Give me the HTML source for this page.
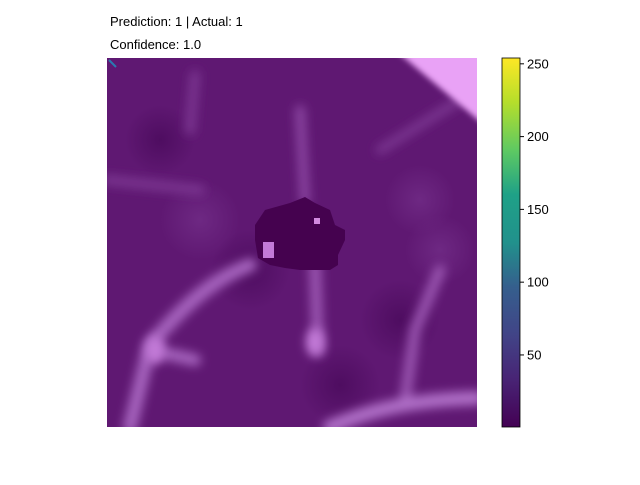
<!DOCTYPE html>
<html><head><meta charset="utf-8"><style>
body{margin:0;background:#fff;width:640px;height:480px;overflow:hidden;font-family:"Liberation Sans","DejaVu Sans",sans-serif}
</style></head><body>
<svg width="640" height="480" xmlns="http://www.w3.org/2000/svg">
<defs>
<linearGradient id="vir" x1="0" y1="1" x2="0" y2="0">
<stop offset="0" stop-color="#440154"/><stop offset="0.13" stop-color="#482475"/><stop offset="0.25" stop-color="#414487"/><stop offset="0.38" stop-color="#355f8d"/><stop offset="0.5" stop-color="#21918c"/><stop offset="0.63" stop-color="#1fa187"/><stop offset="0.75" stop-color="#5ec962"/><stop offset="0.88" stop-color="#b5de2b"/><stop offset="1" stop-color="#fde725"/>
</linearGradient>
<radialGradient id="dk"><stop offset="0" stop-color="#4a0a5c" stop-opacity="0.8"/><stop offset="1" stop-color="#4a0a5c" stop-opacity="0"/></radialGradient>
<radialGradient id="lt"><stop offset="0" stop-color="#742f8a" stop-opacity="0.7"/><stop offset="1" stop-color="#742f8a" stop-opacity="0"/></radialGradient>
<filter id="bl" filterUnits="userSpaceOnUse" x="0" y="0" width="640" height="480"><feGaussianBlur stdDeviation="5"/></filter>
<filter id="bl3" filterUnits="userSpaceOnUse" x="0" y="0" width="640" height="480"><feGaussianBlur stdDeviation="3"/></filter>
<clipPath id="cp"><rect x="107" y="58" width="370" height="369"/></clipPath>
</defs>
<text x="110" y="26" font-size="13">Prediction: 1 | Actual: 1</text>
<text x="110" y="49" font-size="13">Confidence: 1.0</text>
<g clip-path="url(#cp)">
<rect x="107" y="58" width="370" height="369" fill="#5f1872"/>
<circle cx="160" cy="140" r="35" fill="url(#dk)"/><circle cx="250" cy="270" r="40" fill="url(#dk)"/>
<circle cx="340" cy="385" r="40" fill="url(#dk)"/><circle cx="420" cy="200" r="35" fill="url(#lt)"/>
<circle cx="200" cy="220" r="40" fill="url(#lt)"/><circle cx="400" cy="320" r="40" fill="url(#dk)"/>
<circle cx="440" cy="250" r="35" fill="url(#lt)"/>
<g filter="url(#bl)" fill="none" stroke-linecap="round">
<path d="M300 110 L305 200" stroke="#8a45a0" stroke-width="10"/>
<path d="M195 75 L190 130" stroke="#7a3590" stroke-width="10"/>
<path d="M250 265 C210 280 180 310 150 345 L130 427" stroke="#a664be" stroke-width="14"/>
<path d="M150 350 L195 360" stroke="#a664be" stroke-width="12"/>
<path d="M315 265 L318 350" stroke="#9a55b0" stroke-width="12"/>
<path d="M440 270 L415 330 L405 400" stroke="#9a55b0" stroke-width="11"/>
<path d="M330 427 C370 410 410 400 477 398" stroke="#b070c8" stroke-width="14"/>
<path d="M380 150 L460 100" stroke="#7a3590" stroke-width="9"/>
<path d="M107 180 L200 190" stroke="#7a3590" stroke-width="10"/>
</g>
<ellipse cx="155" cy="350" rx="9" ry="14" fill="#c37ad8" filter="url(#bl)"/>
<ellipse cx="315" cy="342" rx="9" ry="14" fill="#c37ad8" filter="url(#bl)"/>
<polygon points="395,50 490,50 490,130" fill="#e9a2f6" filter="url(#bl3)"/>
<polygon points="255,225 265,210 290,203 305,197 315,203 330,210 335,225 345,230 345,240 338,255 338,265 330,270 300,270 285,268 270,265 258,258 255,240" fill="#45024f"/>
<rect x="263" y="242" width="11" height="16" fill="#c37ad8"/>
<rect x="314" y="218" width="6" height="6" fill="#d28ae0"/>
<line x1="109" y1="60" x2="116" y2="67" stroke="#2a7ab0" stroke-width="2"/>
</g>
<rect x="502" y="58" width="18" height="369" fill="url(#vir)" stroke="#000" stroke-width="0.8"/>
<g id="cbticks" font-size="13"></g>
<script>
const tickValues=[50,100,150,200,250];
const tickLabels=["50","100","150","200","250"];
const vmin=0.5, vmax=254;
function cy(v){return 427-(v-vmin)/(vmax-vmin)*369;}
const g=document.getElementById('cbticks');
tickValues.forEach((v,i)=>{
 const y=cy(v);
 const l=document.createElementNS('http://www.w3.org/2000/svg','line');
 l.setAttribute('x1',520);l.setAttribute('x2',524);l.setAttribute('y1',y);l.setAttribute('y2',y);l.setAttribute('stroke','#000');
 
 
 g.appendChild(l);
 const t=document.createElementNS('http://www.w3.org/2000/svg','text');
 t.setAttribute('x',527);t.setAttribute('y',y+4.5);t.textContent=tickLabels[i];
 
 
 g.appendChild(t);
});
</script>
</svg>
</body></html>
